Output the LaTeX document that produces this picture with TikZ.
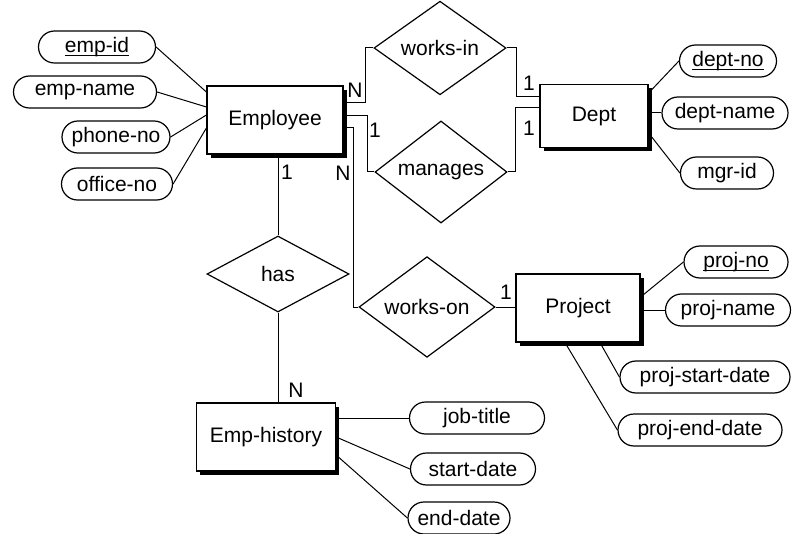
\documentclass[tikz,border=0pt]{standalone}
\usepackage{fontspec}
\setmainfont{Liberation Sans}
\usepackage{tikz}
\usetikzlibrary{positioning,shapes.geometric,shadows}
\newcommand{\keyatt}[1]{\setbox0\hbox{#1}\leavevmode\rlap{\raisebox{-1.6pt}{\rule{\wd0}{0.4pt}}}\box0}

\begin{document}
\begin{tikzpicture}[
  x=0.5pt, y=-0.5pt,
  font=\fontsize{10.5}{12}\selectfont,
  line width=0.6pt,
  ent/.style  ={draw, fill=white, inner sep=2pt, minimum height=34pt,
                drop shadow={shadow xshift=1.8pt, shadow yshift=-1.8pt, fill=black, opacity=1}},
  rel/.style  ={draw, diamond, inner sep=0pt, minimum width=66pt, minimum height=38pt},
  att/.style  ={draw, rounded corners=8pt, inner sep=2pt, minimum height=16pt},
  card/.style ={inner sep=0pt, font=\fontsize{10.5}{12}\selectfont},
  ln/.style   ={line width=0.5pt},
]
\useasboundingbox (0,0) rectangle (792,534);

% ---- entities ----
\node[ent, minimum width=68pt]   (emp)  at (275,120) {Employee};
\node[ent, minimum width=54pt, minimum height=31.5pt] (dept) at (594,116) {Dept};
\node[ent, minimum width=62pt]   (proj) at (578,308) {Project};
\node[ent, minimum width=69.5pt] (hist) at (266,437) {Emp-history};

% ---- relationships ----
\node[rel] (worksin) at (440,48)  {works-in};
\node[rel] (manages) at (441,172) {manages};
\node[rel, minimum width=71pt] (has) at (278,274) {has};
\node[rel, minimum width=68pt] (workson) at (427,307) {works-on};

% ---- attributes ----
\node[att, minimum width=58.5pt] (empid)    at (97,47)   {\keyatt{emp-id}};
\node[att, minimum width=71.5pt] (empname)  at (85,92)   {emp-name};
\node[att, minimum width=54pt]   (phoneno)  at (116,137) {phone-no};
\node[att, minimum width=55.5pt] (officeno) at (117,184) {office-no};

\node[att, minimum width=48.5pt] (deptno)   at (728,61)  {\keyatt{dept-no}};
\node[att, minimum width=63pt]   (deptname) at (725,113) {dept-name};
\node[att, minimum width=46.5pt] (mgrid)    at (727,173) {mgr-id};

\node[att, minimum width=52pt]   (projno)    at (736,262) {\keyatt{proj-no}};
\node[att, minimum width=62.5pt] (projname)  at (728,310) {proj-name};
\node[att, minimum width=85pt]   (projstart) at (705,377) {proj-start-date};
\node[att, minimum width=82pt]   (projend)   at (700,430) {proj-end-date};

\node[att, minimum width=67.5pt] (jobtitle)  at (477,418) {job-title};
\node[att, minimum width=62.5pt] (startdate) at (473,469) {start-date};
\node[att, minimum width=51pt]   (enddate)   at (459,518) {end-date};

% ---- cardinalities ----
\node[card] (cwiE) at (355,90)  {N};
\node[card] (cmgE) at (375,130) {1};
\node[card] (cwoE) at (343,173) {N};
\node[card] (chaE) at (287,172) {1};
\node[card] (cwiD) at (529,83)  {1};
\node[card] (cmgD) at (529,128) {1};
\node[card] (cwoP) at (506,292) {1};
\node[card] (chaH) at (296,390) {N};

% ---- attribute links ----
\draw[ln] (empid.east)    -- ([yshift=14pt]emp.west);
\draw[ln] (empname.east)  -- ([yshift=6.5pt]emp.west);
\draw[ln] (phoneno.east)  -- ([yshift=2.5pt]emp.west);
\draw[ln] (officeno.east) -- ([yshift=-4pt]emp.west);

\draw[ln] ([yshift=11.5pt]dept.east) -- (deptno.west);
\draw[ln] (dept.east |- deptname)    -- (deptname.west);
\draw[ln] ([yshift=-8.5pt]dept.east) -- (mgrid.west);

\draw[ln] ([yshift=5.5pt]proj.east)  -- (projno.west);
\draw[ln] (proj.east |- projname)    -- (projname.west);
\draw[ln] ([xshift=11pt]proj.south)  -- (projstart.west);
\draw[ln] ([xshift=-6.5pt]proj.south) -- (projend.west);

\draw[ln] (hist.east |- jobtitle)    -- (jobtitle.west);
\draw[ln] (hist.east)                -- (startdate.west);
\draw[ln] ([yshift=-9pt]hist.east)   -- (enddate.west);

% ---- relationship links ----
\draw[ln] ([yshift=8.5pt]emp.east) -- ++(22,0) |- (worksin.west);
\draw[ln] ([yshift=2pt]emp.east)   -- ++(24,0) |- (manages.west);
\draw[ln] ([yshift=-4pt]emp.east)  -- ++(10,0) |- (workson.west);
\draw[ln] (worksin.east) -- ++(10,0) |- ([yshift=9.5pt]dept.west);
\draw[ln] (manages.east) -- ++(8,0)  |- ([yshift=4pt]dept.west);
\draw[ln] (workson.east) -- (workson.east -| proj.west);
\draw[ln] (has.north |- emp.south) -- (has.north);
\draw[ln] (has.south) -- (has.south |- hist.north);
\end{tikzpicture}
\end{document}
